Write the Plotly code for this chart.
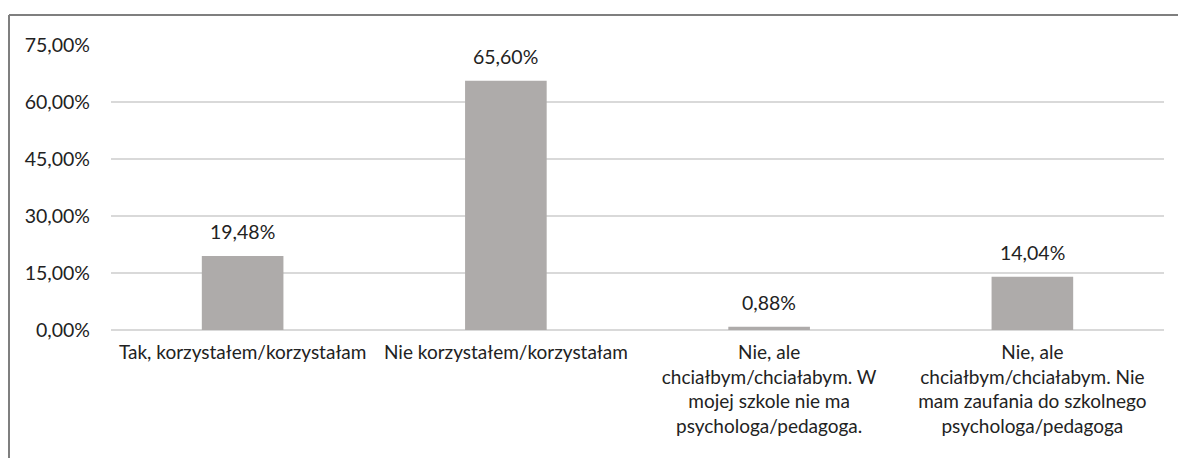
import plotly.graph_objects as go

categories = [
    "Tak, korzystałem/korzystałam",
    "Nie korzystałem/korzystałam",
    "Nie, ale<br>chciałbym/chciałabym. W<br>mojej szkole nie ma<br>psychologa/pedagoga.",
    "Nie, ale<br>chciałbym/chciałabym. Nie<br>mam zaufania do szkolnego<br>psychologa/pedagoga",
]
values = [19.48, 65.60, 0.88, 14.04]
tick_vals = [0, 15, 30, 45, 60, 75]

W, H = 1178, 458
L, R, T, B = 111, 14, 45, 128
pw, ph = W - L - R, H - T - B

font_family = "Lato, 'Open Sans', sans-serif"
fs = 19.5
text_color = "#222222"
bar_color = "#AEABAA"

fig = go.Figure()
fig.add_trace(go.Bar(
    x=categories, y=values,
    marker=dict(color=bar_color, line=dict(width=0)),
    width=0.31,
    hoverinfo="skip",
))

for c, v in zip(categories, values):
    fig.add_annotation(
        x=c, y=v, text=f"{v:.2f}".replace(".", ",") + "%",
        showarrow=False, yanchor="middle", yshift=24,
        font=dict(family=font_family, size=fs, color=text_color),
    )

def px_x(p):
    return (p - L) / pw

def px_y(p):
    return (H - B - p) / ph

frame = dict(color="#7F7F7F", width=2)
fig.add_shape(type="line", xref="paper", yref="paper",
              x0=px_x(9), x1=px_x(9), y0=px_y(15), y1=px_y(470), line=frame)
fig.add_shape(type="line", xref="paper", yref="paper",
              x0=px_x(9), x1=px_x(1190), y0=px_y(15), y1=px_y(15), line=frame)

fig.update_layout(
    width=W, height=H,
    margin=dict(l=L, r=R, t=T, b=B),
    paper_bgcolor="white", plot_bgcolor="white",
    separators=", ",
    showlegend=False,
    font=dict(family=font_family, size=fs, color=text_color),
)
fig.update_xaxes(
    showgrid=False, showline=False, zeroline=False,
    tickfont=dict(family=font_family, size=19, color=text_color),
    ticklabelstandoff=9, tickangle=0,
)
fig.update_yaxes(
    range=[0, 75], tickvals=tick_vals,
    ticktext=[f"{v:.2f}".replace(".", ",") + "%" for v in tick_vals],
    showgrid=True, gridcolor="#D9D9D9", gridwidth=1.5,
    zeroline=True, zerolinecolor="#D9D9D9", zerolinewidth=1.5,
    showline=False,
    tickfont=dict(family=font_family, size=fs, color=text_color),
    ticklabelstandoff=20,
)

fig.write_html(
    "out.html",
    config={"displayModeBar": False, "staticPlot": True},
    post_script="document.body.style.margin='0';document.body.style.overflow='hidden';",
)
